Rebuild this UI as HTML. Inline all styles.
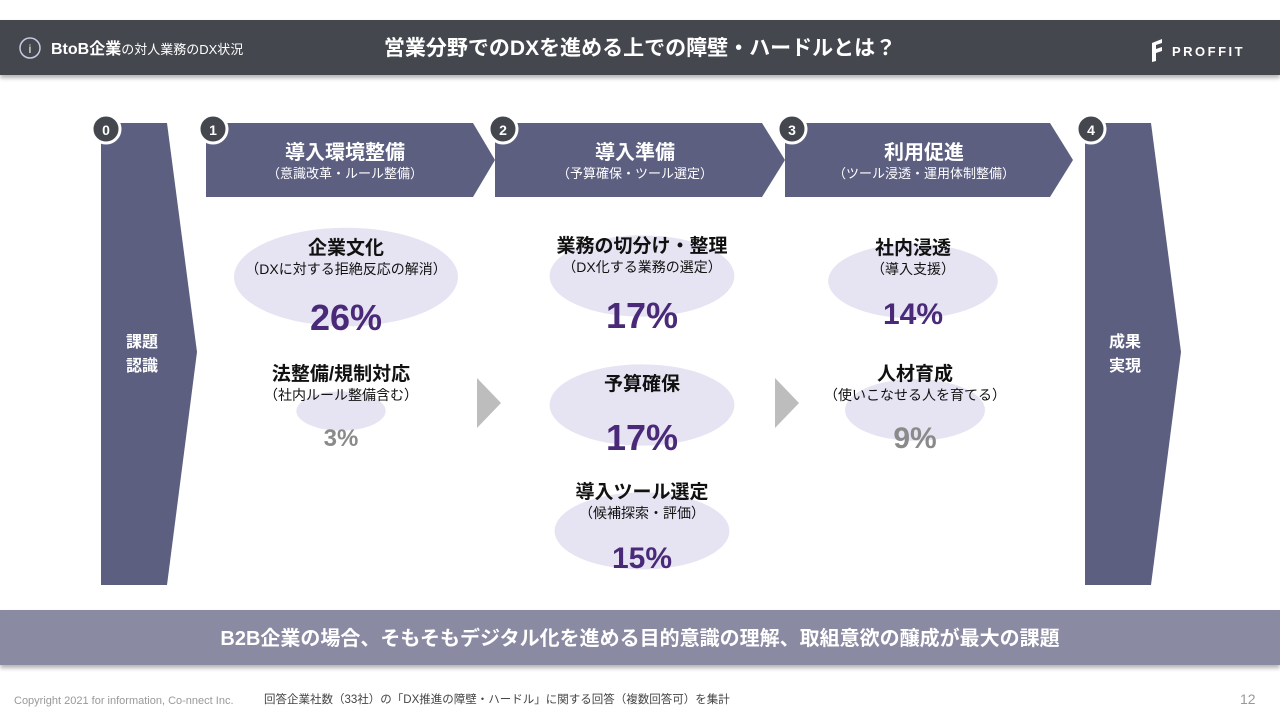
<!DOCTYPE html>
<html><head><meta charset="utf-8">
<style>
html,body{margin:0;padding:0;background:#fff;}
body{width:1280px;height:720px;overflow:hidden;font-family:"Liberation Sans","Noto Sans CJK JP",sans-serif;}
svg text{font-family:"Liberation Sans","Noto Sans CJK JP",sans-serif;}
</style></head>
<body>
<svg id="slide" width="1280" height="720" viewBox="0 0 1280 720">
<defs>
<filter id="sh" x="-5%" y="-20%" width="110%" height="150%"><feDropShadow dx="0" dy="3" stdDeviation="2" flood-color="#000" flood-opacity="0.3"/></filter>
</defs>
<g>
<rect x="0" y="20" width="1280" height="55" fill="#45474f" filter="url(#sh)"/>
<circle cx="30" cy="48" r="10" fill="none" stroke="#c9cadf" stroke-width="1.5"/>
<text x="30" y="53" fill="#fff" font-size="12" text-anchor="middle">i</text>
<text x="51" y="54" fill="#fff" font-size="16" font-weight="bold">BtoB企業<tspan font-size="13" font-weight="normal">の対人業務のDX状況</tspan></text>
<text x="640" y="55" fill="#fff" font-size="21" font-weight="bold" text-anchor="middle">営業分野でのDXを進める上での障壁・ハードルとは？</text>
<path d="M1152 43 L1162 39 L1162 43 L1156 45 L1156 49 L1162 47 L1162 51 L1156 53 L1156 61 L1152 62 Z" fill="#fff"/>
<text x="1172" y="56" fill="#fff" font-size="13" font-weight="bold" letter-spacing="2.5">PROFFIT</text>
</g>
<g>
<polygon points="101,123 167,123 197,352 167,585 101,585" fill="#5c5f80"/>
<text x="142" y="347" fill="#fff" font-size="16" font-weight="bold" text-anchor="middle">課題</text>
<text x="142" y="371" fill="#fff" font-size="16" font-weight="bold" text-anchor="middle">認識</text>
<polygon points="1085,123 1151,123 1181,352 1151,585 1085,585" fill="#5c5f80"/>
<text x="1125" y="347" fill="#fff" font-size="16" font-weight="bold" text-anchor="middle">成果</text>
<text x="1125" y="371" fill="#fff" font-size="16" font-weight="bold" text-anchor="middle">実現</text>
<polygon points="206,123 473,123 495,160 473,197 206,197" fill="#5c5f80"/>
<text x="345" y="159" fill="#fff" font-size="20" font-weight="bold" text-anchor="middle">導入環境整備</text>
<text x="345" y="178" fill="#fff" font-size="13" text-anchor="middle">（意識改革・ルール整備）</text>
<polygon points="495,123 762,123 785,160 762,197 495,197" fill="#5c5f80"/>
<text x="635" y="159" fill="#fff" font-size="20" font-weight="bold" text-anchor="middle">導入準備</text>
<text x="635" y="178" fill="#fff" font-size="13" text-anchor="middle">（予算確保・ツール選定）</text>
<polygon points="785,123 1050,123 1073,160 1050,197 785,197" fill="#5c5f80"/>
<text x="924" y="159" fill="#fff" font-size="20" font-weight="bold" text-anchor="middle">利用促進</text>
<text x="924" y="178" fill="#fff" font-size="13" text-anchor="middle">（ツール浸透・運用体制整備）</text>
<g>
<circle cx="106" cy="129" r="14" fill="#45474f" stroke="#fff" stroke-width="3"/><text x="106" y="135" fill="#fff" font-size="14" font-weight="bold" text-anchor="middle">0</text>
<circle cx="213" cy="129" r="14" fill="#45474f" stroke="#fff" stroke-width="3"/><text x="213" y="135" fill="#fff" font-size="14" font-weight="bold" text-anchor="middle">1</text>
<circle cx="503" cy="129" r="14" fill="#45474f" stroke="#fff" stroke-width="3"/><text x="503" y="135" fill="#fff" font-size="14" font-weight="bold" text-anchor="middle">2</text>
<circle cx="792" cy="129" r="14" fill="#45474f" stroke="#fff" stroke-width="3"/><text x="792" y="135" fill="#fff" font-size="14" font-weight="bold" text-anchor="middle">3</text>
<circle cx="1091" cy="129" r="14" fill="#45474f" stroke="#fff" stroke-width="3"/><text x="1091" y="135" fill="#fff" font-size="14" font-weight="bold" text-anchor="middle">4</text>
</g>
<polygon points="477,378 501,403 477,428" fill="#bdbdbd"/>
<polygon points="775,378 799,403 775,428" fill="#bdbdbd"/>
</g>
<g id="bubbles"></g>
<g>
<rect x="0" y="610" width="1280" height="55" fill="#8b8aa3" filter="url(#sh)"/>
<text x="640" y="645" fill="#fff" font-size="20" font-weight="bold" text-anchor="middle">B2B企業の場合、そもそもデジタル化を進める目的意識の理解、取組意欲の醸成が最大の課題</text>
</g>
<text x="14" y="704" fill="#999" font-size="11">Copyright 2021 for information, Co-nnect Inc.</text>
<text x="264" y="703" fill="#444" font-size="11.5">回答企業社数（33社）の「DX推進の障壁・ハードル」に関する回答（複数回答可）を集計</text>
<text x="1240" y="704" fill="#999" font-size="14">12</text>
</svg>
<script>
const categories = ["企業文化","法整備/規制対応","業務の切分け・整理","予算確保","導入ツール選定","社内浸透","人材育成"];
const subtitles = ["（DXに対する拒絶反応の解消）","（社内ルール整備含む）","（DX化する業務の選定）","","（候補探索・評価）","（導入支援）","（使いこなせる人を育てる）"];
const values = [26,3,17,17,15,14,9];
const valueLabels = ["26%","3%","17%","17%","15%","14%","9%"];
const layout = [
  {cx:346,cy:277,ly:254},{cx:341,cy:411,ly:380},
  {cx:642,cy:276,ly:252},{cx:642,cy:405,ly:390},
  {cx:642,cy:531,ly:498},{cx:913,cy:281,ly:254},{cx:915,cy:410,ly:380}
];
const NS="http://www.w3.org/2000/svg";
const g=document.getElementById('bubbles');
function rx(v){return (20+40*Math.sqrt(v))/2;}
function mk(tag,attrs){const e=document.createElementNS(NS,tag);for(const k in attrs)e.setAttribute(k,attrs[k]);return e;}
categories.forEach((c,i)=>{
  const L=layout[i], v=values[i], r=rx(v);
  const grp=mk('g',{});
  
  
  const el=mk('ellipse',{cx:L.cx,cy:L.cy,rx:r,ry:r*0.44,fill:'#e6e4f2'});
  
  
  grp.appendChild(el);
  const t=mk('text',{x:L.cx,y:L.ly,'text-anchor':'middle','font-size':19,'font-weight':'bold',fill:'#111'});
  t.textContent=c;
  
  
  grp.appendChild(t);
  if(subtitles[i]){
    const s=mk('text',{x:L.cx,y:L.ly+20,'text-anchor':'middle','font-size':14,fill:'#111'});
    s.textContent=subtitles[i];
    
    
    grp.appendChild(s);
  }
  const big=v>=10;
  const p=mk('text',{x:L.cx,y:subtitles[i]? L.ly+76 : L.ly+60,'text-anchor':'middle','font-size':big?36:24,'font-weight':'bold',fill:big?'#4a2a78':'#8a8a8a'});
  if(i===5){p.setAttribute('y',L.ly+70);p.setAttribute('font-size',30);}
  if(i===4){p.setAttribute('y',L.ly+70);p.setAttribute('font-size',30);}
  if(i===1){p.setAttribute('y',L.ly+66);}
  if(i===6){p.setAttribute('y',L.ly+68);p.setAttribute('font-size',30);}
  p.textContent=valueLabels[i];
  
  
  grp.appendChild(p);
  g.appendChild(grp);
});
</script>
</body></html>
